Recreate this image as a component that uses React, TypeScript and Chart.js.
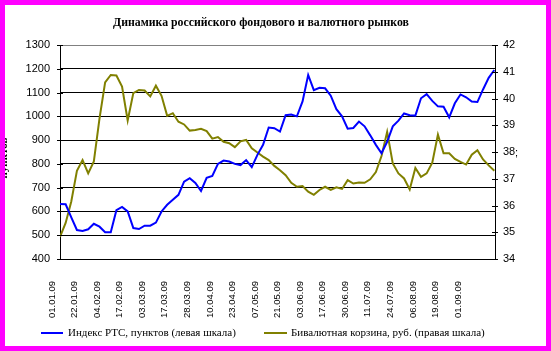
import React, { useEffect, useRef } from "react";
import { Chart, registerables } from "chart.js";

Chart.register(...registerables);

const chartTitle = "Динамика российского фондового и валютного рынков";
const rtsLabel = "Индекс РТС, пунктов (левая шкала)";
const basketLabel = "Бивалютная корзина, руб. (правая шкала)";

const dateLabels = [
  "01.01.09", "22.01.09", "04.02.09", "17.02.09", "03.03.09", "17.03.09", "28.03.09",
  "10.04.09", "23.04.09", "07.05.09", "21.05.09", "03.06.09", "17.06.09", "30.06.09",
  "11.07.09", "24.07.09", "06.08.09", "19.08.09", "01.09.09",
];

// samples taken every quarter of a label interval
const SAMPLES_PER_LABEL = 4;

const rtsIndex = [
  631, 630, 575, 522, 518, 525, 548, 536, 513, 513,
  605, 619, 600, 530, 526, 540, 540, 553, 600, 628,
  649, 670, 725, 740, 720, 686, 741, 749, 800, 814,
  810, 800, 795, 816, 786, 838, 880, 953, 950, 936,
  1005, 1008, 1000, 1063, 1174, 1110, 1120, 1118, 1087, 1030,
  1000, 948, 951, 978, 958, 920, 880, 845, 893, 958,
  982, 1012, 1005, 1003, 1076, 1093, 1065, 1042, 1040, 996,
  1055, 1092, 1080, 1062, 1060, 1113, 1162, 1195,
];

const basket = [
  34.83, 35.35, 36.15, 37.3, 37.7, 37.2, 37.65, 39.25, 40.6, 40.88,
  40.86, 40.45, 39.18, 40.2, 40.32, 40.3, 40.08, 40.48, 40.1, 39.35,
  39.45, 39.13, 39.03, 38.8, 38.82, 38.87, 38.78, 38.5, 38.56, 38.38,
  38.33, 38.18, 38.4, 38.45, 38.14, 37.98, 37.83, 37.7, 37.48, 37.32,
  37.13, 36.85, 36.7, 36.73, 36.52, 36.4, 36.58, 36.7, 36.58, 36.68,
  36.62, 36.95, 36.82, 36.86, 36.85, 36.98, 37.25, 37.85, 38.75, 37.57,
  37.2, 37.01, 36.6, 37.4, 37.07, 37.2, 37.6, 38.65, 37.95, 37.95,
  37.74, 37.63, 37.53, 37.9, 38.07, 37.72, 37.5, 37.3,
];

const leftTicks = { min: 400, max: 1300, step: 100 };
const rightTicks = { min: 34, max: 42, step: 1 };

const BLUE = "#0000ff";
const OLIVE = "#808000";

export default function App() {
  const ref = useRef<HTMLCanvasElement>(null);

  useEffect(() => {
    document.body.style.margin = "0";
    const toPoints = (arr: number[]) =>
      arr.map((v, i) => ({ x: i / SAMPLES_PER_LABEL, y: v }));

    const decor = {
      id: "decor",
      afterDraw(chart: any) {
        const ctx = chart.ctx as CanvasRenderingContext2D;
        const { left, right } = chart.chartArea;
        const yS = chart.scales.y;
        const y1S = chart.scales.y1;
        ctx.save();
        ctx.strokeStyle = "#000";
        ctx.lineWidth = 1;
        for (let v = leftTicks.min; v <= leftTicks.max; v += leftTicks.step) {
          const py = Math.round(yS.getPixelForValue(v)) + 0.5;
          ctx.beginPath();
          ctx.moveTo(left - 3, py);
          ctx.lineTo(left + 3, py);
          ctx.stroke();
        }
        for (let v = rightTicks.min; v <= rightTicks.max; v += rightTicks.step) {
          const py = Math.round(y1S.getPixelForValue(v)) + 0.5;
          ctx.beginPath();
          ctx.moveTo(right - 3, py);
          ctx.lineTo(right + 3, py);
          ctx.stroke();
        }
        // title
        ctx.fillStyle = "#000";
        ctx.font = "bold 11.8px 'Liberation Serif'";
        ctx.textAlign = "center";
        ctx.textBaseline = "middle";
        ctx.fillText(chartTitle, 256, 18);
        // legend
        ctx.font = "11px 'Liberation Serif'";
        ctx.textAlign = "left";
        const ly = 328;
        ctx.lineWidth = 2;
        ctx.strokeStyle = BLUE;
        ctx.beginPath();
        ctx.moveTo(36, ly);
        ctx.lineTo(58, ly);
        ctx.stroke();
        ctx.fillText(rtsLabel, 63, ly);
        ctx.strokeStyle = OLIVE;
        ctx.beginPath();
        ctx.moveTo(259, ly);
        ctx.lineTo(282, ly);
        ctx.stroke();
        ctx.fillText(basketLabel, 286, ly);
        // clipped axis title fragment at the very left edge
        ctx.save();
        ctx.translate(2, 153);
        ctx.rotate(-Math.PI / 2);
        ctx.textAlign = "center";
        ctx.textBaseline = "alphabetic";
        ctx.font = "bold 11px 'Liberation Serif'";
        ctx.fillText("пунктов", 0, 0);
        ctx.restore();
        ctx.font = "11px 'Liberation Sans'";
        ctx.textAlign = "left";
        ctx.textBaseline = "middle";
        ctx.fillText(";", 510, 148);
        ctx.restore();
      },
    };

    const chart = new Chart(ref.current!, {
      type: "line",
      data: {
        datasets: [
          {
            label: rtsLabel,
            data: toPoints(rtsIndex),
            borderColor: BLUE,
            backgroundColor: BLUE,
            borderWidth: 2,
            pointRadius: 0,
            tension: 0,
            yAxisID: "y",
          },
          {
            label: basketLabel,
            data: toPoints(basket),
            borderColor: OLIVE,
            backgroundColor: OLIVE,
            borderWidth: 2,
            pointRadius: 0,
            tension: 0,
            yAxisID: "y1",
          },
        ],
      },
      options: {
        responsive: false,
        animation: false,
        events: [],
        layout: { padding: { top: 40, left: 0, right: 0, bottom: 27 } },
        plugins: { legend: { display: false }, title: { display: false }, tooltip: { enabled: false } },
        scales: {
          x: {
            type: "linear",
            min: 0,
            max: 19.28,
            afterFit: (s: any) => { s.height = 60; },
            grid: { display: false, drawTicks: false },
            border: { display: true, color: "#000", width: 1 },
            ticks: {
              stepSize: 1,
              autoSkip: false,
              maxRotation: 90,
              minRotation: 90,
              padding: 22,
              labelOffset: -8,
              color: "#000",
              font: { family: "'Liberation Sans'", size: 9.5 },
              callback: (v: any) => dateLabels[v as number] ?? "",
            },
          },
          y: {
            position: "left",
            min: leftTicks.min,
            max: leftTicks.max,
            afterFit: (s: any) => { s.width = 55; },
            grid: {
              drawTicks: false,
              color: (c: any) => (c.tick && c.tick.value === leftTicks.max ? "#808080" : "#000"),
              lineWidth: 1,
            },
            border: { display: true, color: "#000", width: 1 },
            ticks: {
              stepSize: leftTicks.step,
              padding: 10,
              color: "#000",
              font: { family: "'Liberation Sans'", size: 11 },
              callback: (v: any) => String(v),
            },
          },
          y1: {
            position: "right",
            min: rightTicks.min,
            max: rightTicks.max,
            afterFit: (s: any) => { s.width = 51; },
            grid: { display: false, drawTicks: false },
            border: { display: true, color: "#000", width: 1 },
            ticks: {
              stepSize: rightTicks.step,
              padding: 8,
              color: "#000",
              font: { family: "'Liberation Sans'", size: 11 },
              callback: (v: any) => String(v),
            },
          },
        },
      },
      plugins: [decor],
    } as any);
    return () => chart.destroy();
  }, []);

  return (
    <div
      style={{
        width: 551,
        height: 351,
        boxSizing: "border-box",
        border: "5px solid #ff00ff",
        background: "#fff",
      }}
    >
      <canvas ref={ref} width={541} height={341} style={{ display: "block", width: 541, height: 341 }} />
    </div>
  );
}
